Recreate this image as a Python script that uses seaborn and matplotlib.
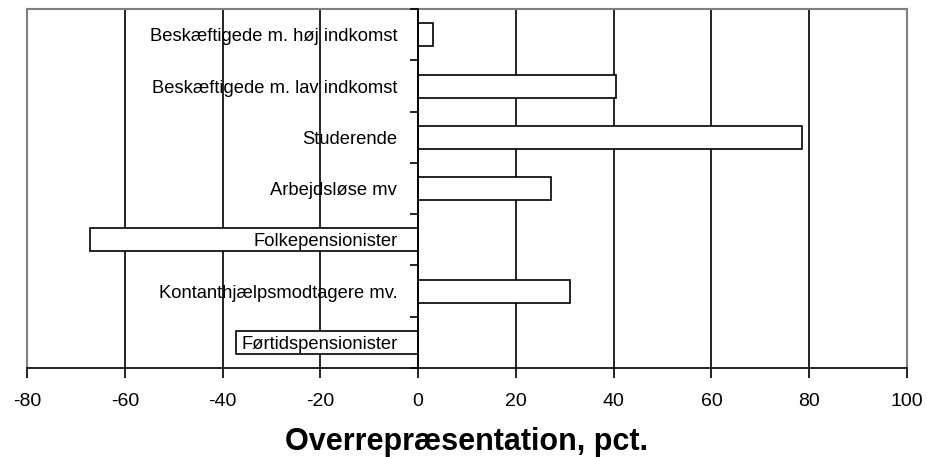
import numpy as np
import pandas as pd
import seaborn as sns
import matplotlib
matplotlib.use('Agg')
import matplotlib.pyplot as plt
from matplotlib.ticker import FixedLocator

# data
grupper = ['Beskæftigede m. høj indkomst',
           'Beskæftigede m. lav indkomst',
           'Studerende',
           'Arbejdsløse mv',
           'Folkepensionister',
           'Kontanthjælpsmodtagere mv.',
           'Førtidspensionister']
overrep = [3, 40.5, 78.6, 27.2, -67.1, 31, -37.2]
xticks = [-80, -60, -40, -20, 0, 20, 40, 60, 80, 100]

df = pd.DataFrame({'gruppe': grupper, 'pct': overrep})

sns.set_style('white')
plt.rcParams['font.family'] = ['Liberation Sans', 'DejaVu Sans']
plt.rcParams['text.color'] = 'black'
plt.rcParams['xtick.color'] = 'black'
plt.rcParams['ytick.color'] = 'black'
plt.rcParams['axes.labelcolor'] = 'black'

fig = plt.figure(figsize=(9.27, 4.57), dpi=100)
ax = fig.add_axes([0.0291, 0.1947, 0.9493, 0.7853])

sns.barplot(data=df, x='pct', y='gruppe', orient='h', color='white',
            edgecolor='black', linewidth=1.2, width=0.45, ax=ax, zorder=3)

ax.set_xlim(xticks[0], xticks[-1])
ax.set_ylim(len(grupper) - 0.5, -0.5)

# lodrette gitterlinjer
for v in xticks[1:-1]:
    ax.axvline(v, color='black', lw=1.2, zorder=1)
ax.axvline(xticks[0], color='#808080', lw=1.5, zorder=1, clip_on=False)

ax.spines['left'].set_position(('data', 0))
ax.spines['left'].set_color('black')
ax.spines['left'].set_linewidth(1.2)
ax.spines['left'].set_zorder(4)
ax.spines['bottom'].set_color('black')
ax.spines['bottom'].set_linewidth(1.2)
for s in ['top', 'right']:
    ax.spines[s].set_color('#808080')
    ax.spines[s].set_linewidth(1.5)

# kategori-streger mellem grupperne, navne i midten
ax.yaxis.set_major_locator(FixedLocator(np.arange(len(grupper) + 1) - 0.5))
ax.yaxis.set_minor_locator(FixedLocator(np.arange(len(grupper))))
ax.set_yticklabels([], minor=False)
ax.set_yticklabels(grupper, minor=True, fontsize=13.2)
ax.tick_params(axis='y', which='major', direction='out', length=6, width=1.2, left=True)
ax.tick_params(axis='y', which='minor', length=0, pad=15, left=True)
ax.yaxis.set_zorder(5)

ax.set_xticks(xticks)
ax.set_xticklabels([str(v) for v in xticks], fontsize=14)
ax.tick_params(axis='x', direction='out', length=7, width=1.2, bottom=True, pad=11)

ax.set_ylabel('')
ax.set_xlabel('Overrepræsentation, pct.', fontsize=22, fontweight='bold', labelpad=12)

fig.savefig('out.png', dpi=100, facecolor='white')
